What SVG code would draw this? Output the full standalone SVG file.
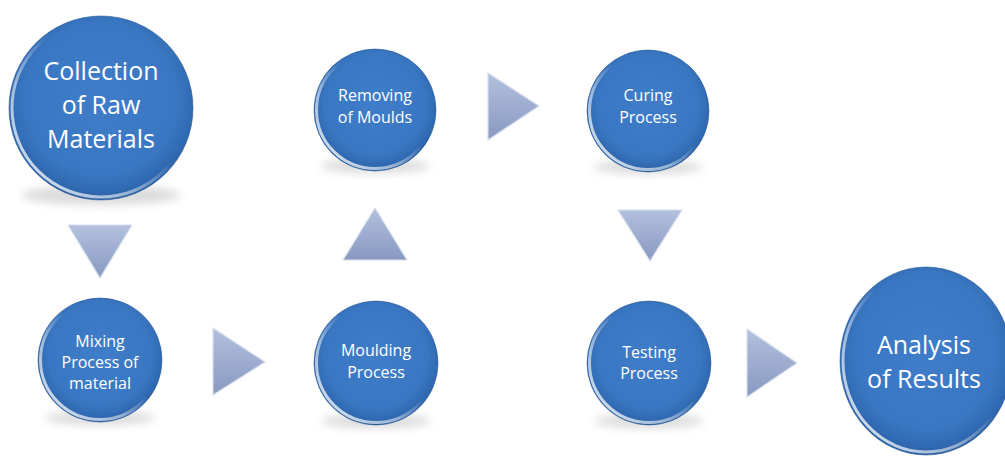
<svg xmlns="http://www.w3.org/2000/svg" width="1005" height="456" viewBox="0 0 1005 456">
<defs>
  <radialGradient id="ballFill" cx="0.5" cy="0.45" r="0.55">
    <stop offset="0" stop-color="#3f7dca"/>
    <stop offset="0.75" stop-color="#3a77c2"/>
    <stop offset="0.93" stop-color="#2f68b0"/>
    <stop offset="1" stop-color="#2a5d9f"/>
  </radialGradient>
  <linearGradient id="rim" x1="0" y1="1" x2="1" y2="0">
    <stop offset="0" stop-color="#ffffff" stop-opacity="0.9"/>
    <stop offset="0.35" stop-color="#ffffff" stop-opacity="0.5"/>
    <stop offset="0.55" stop-color="#ffffff" stop-opacity="0"/>
    <stop offset="0.85" stop-color="#ffffff" stop-opacity="0"/>
    <stop offset="1" stop-color="#ffffff" stop-opacity="0.45"/>
  </linearGradient>
  <linearGradient id="triFill" x1="0" y1="0" x2="0" y2="1">
    <stop offset="0" stop-color="#b3c1de"/>
    <stop offset="1" stop-color="#8898c0"/>
  </linearGradient>
  <filter id="blur" x="-50%" y="-50%" width="200%" height="200%">
    <feGaussianBlur stdDeviation="5"/>
  </filter>
</defs>
<style>
  .ball { fill: url(#ballFill); }
  .rim { fill: none; stroke: url(#rim); stroke-width: 3; }
  .edge { fill: none; stroke: #2a5a98; stroke-width: 1; stroke-opacity: 0.6; }
  .shadow { fill: #000; opacity: 0.14; filter: url(#blur); }
  .tri { fill: url(#triFill); stroke: #d6deee; stroke-width: 1.2; stroke-linejoin: round; }
  .lbl { fill: #ffffff; font-family: "Open Sans", "Liberation Sans", sans-serif; text-anchor: middle; }
  .big { font-size: 25px; }
  .small { font-size: 16px; }
</style>

<g id="connectors">
  <polygon class="tri" points="68,225 132,225 100,278"/>
  <polygon class="tri" points="213,328 213,395 265,362"/>
  <polygon class="tri" points="343,260 407,260 375,208"/>
  <polygon class="tri" points="488,73 488,140 539,106"/>
  <polygon class="tri" points="618,210 682,210 650,261"/>
  <polygon class="tri" points="747,329 747,397 797,363"/>
</g>

<g id="node-collection">
  <ellipse class="shadow" cx="101" cy="195" rx="80" ry="10"/>
  <circle class="ball" cx="101" cy="108" r="92"/>
  <circle class="rim" cx="101" cy="108" r="89"/>
  <circle class="edge" cx="101" cy="108" r="92"/>
  <text class="lbl big" x="101" y="80">Collection</text>
  <text class="lbl big" x="101" y="114">of Raw</text>
  <text class="lbl big" x="101" y="148">Materials</text>
</g>

<g id="node-mixing">
  <ellipse class="shadow" cx="100" cy="418" rx="55" ry="7"/>
  <circle class="ball" cx="100" cy="360" r="62"/>
  <circle class="rim" cx="100" cy="360" r="59.5"/>
  <circle class="edge" cx="100" cy="360" r="62"/>
  <text class="lbl small" x="100" y="347">Mixing</text>
  <text class="lbl small" x="100" y="368">Process of</text>
  <text class="lbl small" x="100" y="389">material</text>
</g>

<g id="node-moulding">
  <ellipse class="shadow" cx="376" cy="421" rx="55" ry="7"/>
  <circle class="ball" cx="376" cy="363" r="62"/>
  <circle class="rim" cx="376" cy="363" r="59.5"/>
  <circle class="edge" cx="376" cy="363" r="62"/>
  <text class="lbl small" x="376" y="356">Moulding</text>
  <text class="lbl small" x="376" y="378">Process</text>
</g>

<g id="node-removing">
  <ellipse class="shadow" cx="375" cy="166" rx="55" ry="7"/>
  <circle class="ball" cx="375" cy="110" r="61"/>
  <circle class="rim" cx="375" cy="110" r="58.5"/>
  <circle class="edge" cx="375" cy="110" r="61"/>
  <text class="lbl small" x="375" y="101">Removing</text>
  <text class="lbl small" x="375" y="123">of Moulds</text>
</g>

<g id="node-curing">
  <ellipse class="shadow" cx="648" cy="167" rx="55" ry="7"/>
  <circle class="ball" cx="648" cy="111" r="61"/>
  <circle class="rim" cx="648" cy="111" r="58.5"/>
  <circle class="edge" cx="648" cy="111" r="61"/>
  <text class="lbl small" x="648" y="101">Curing</text>
  <text class="lbl small" x="648" y="123">Process</text>
</g>

<g id="node-testing">
  <ellipse class="shadow" cx="649" cy="421" rx="55" ry="7"/>
  <circle class="ball" cx="649" cy="363" r="62"/>
  <circle class="rim" cx="649" cy="363" r="59.5"/>
  <circle class="edge" cx="649" cy="363" r="62"/>
  <text class="lbl small" x="649" y="358">Testing</text>
  <text class="lbl small" x="649" y="379">Process</text>
</g>

<g id="node-analysis">
  <ellipse class="ball" cx="926" cy="361" rx="86" ry="94"/>
  <ellipse class="rim" cx="926" cy="361" rx="83" ry="91"/>
  <ellipse class="edge" cx="926" cy="361" rx="86" ry="94"/>
  <text class="lbl big" x="924" y="354">Analysis</text>
  <text class="lbl big" x="924" y="388">of Results</text>
</g>
</svg>
